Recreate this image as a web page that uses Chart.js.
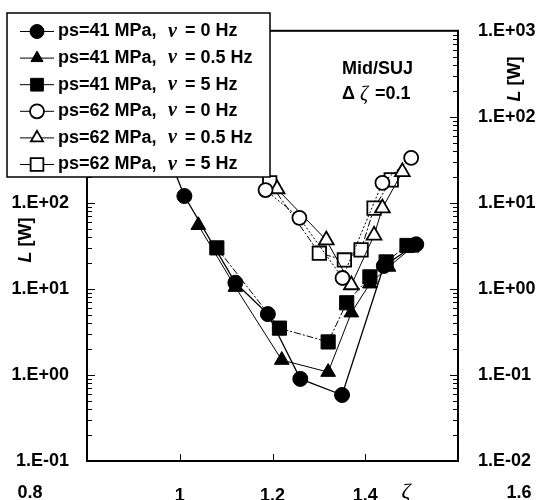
<!DOCTYPE html>
<html>
<head>
<meta charset="utf-8">
<script src="https://cdn.jsdelivr.net/npm/chart.js@4"></script>
<style>
  html, body { margin: 0; padding: 0; background: #fff; }
  #wrap { width: 536px; height: 500px; }
</style>
</head>
<body>
<div id="wrap"><canvas id="c"></canvas></div>
<script>
const SANS = "'Liberation Sans', Arial, sans-serif";
const SERIF = "'Liberation Serif', 'DejaVu Serif', serif";

// tick values
const xTicks = [0.8, 1, 1.2, 1.4, 1.6];
const yTicksLeft = [0.1, 1, 10, 100, 1000, 10000];
const yTicksRight = [0.01, 0.1, 1, 10, 100, 1000];

// series (zeta, L [W])
const zeta41_0 = [0.97, 1.01, 1.12, 1.19, 1.26, 1.35, 1.44, 1.51];
const L41_0 = [420, 120, 11.8, 5.1, 0.9, 0.585, 18.5, 33];

const zeta41_05 = [1.04, 1.12, 1.22, 1.32, 1.37, 1.41, 1.45, 1.50];
const L41_05 = [55, 10.5, 1.49, 1.08, 5.3, 11.5, 18, 30];

const zeta41_5 = [1.08, 1.215, 1.32, 1.36, 1.41, 1.445, 1.49];
const L41_5 = [30, 3.5, 2.42, 6.9, 13.8, 20.6, 32];

const zeta62_0 = [1.185, 1.258, 1.351, 1.437, 1.499];
const L62_0 = [141, 67, 13.4, 171, 333];

const zeta62_05 = [1.21, 1.316, 1.37, 1.419, 1.437, 1.48];
const L62_05 = [145, 37, 11.1, 42, 87, 229];

const zeta62_5 = [1.194, 1.301, 1.355, 1.391, 1.419, 1.456];
const L62_5 = [171, 26, 21.7, 28.4, 87, 185];

const seriesLabels = [
  "ps=41 MPa, ν = 0 Hz",
  "ps=41 MPa, ν = 0.5 Hz",
  "ps=41 MPa, ν = 5 Hz",
  "ps=62 MPa, ν = 0 Hz",
  "ps=62 MPa, ν = 0.5 Hz",
  "ps=62 MPa, ν = 5 Hz"
];

function pts(xs, ys) {
  return xs.map((x, i) => ({ x, y: ys[i] }));
}

function sci(v) {
  const e = Math.round(Math.log10(v));
  const s = e < 0 ? "-" : "+";
  return "1.E" + s + String(Math.abs(e)).padStart(2, "0");
}

function series(label, data, style, filled, radius, dash, width) {
  return {
    label,
    data,
    showLine: true,
    borderColor: "#000",
    borderWidth: width,
    borderDash: dash,
    tension: 0,
    pointStyle: style,
    pointRadius: radius,
    pointHoverRadius: radius,
    pointBackgroundColor: filled ? "#000" : "#fff",
    pointBorderColor: "#000",
    pointBorderWidth: filled ? 1 : 1.8
  };
}

const datasets = [
  series(seriesLabels[0], pts(zeta41_0, L41_0), "circle", true, 7.5, [], 1.3),
  series(seriesLabels[1], pts(zeta41_05, L41_05), "triangle", true, 8.5, [], 1),
  series(seriesLabels[2], pts(zeta41_5, L41_5), "rect", true, 10, [7, 2, 2, 2], 1),
  series(seriesLabels[3], pts(zeta62_0, L62_0), "circle", false, 7, [2, 2], 1),
  series(seriesLabels[4], pts(zeta62_05, L62_05), "triangle", false, 8.5, [], 1),
  series(seriesLabels[5], pts(zeta62_5, L62_5), "rect", false, 9.5, [7, 2, 2, 2], 1)
];

function marker(ctx, style, filled, x, y, r) {
  ctx.beginPath();
  if (style === "circle") {
    ctx.arc(x, y, r, 0, Math.PI * 2);
  } else if (style === "triangle") {
    ctx.moveTo(x, y - r);
    ctx.lineTo(x + r * 0.866, y + r * 0.5);
    ctx.lineTo(x - r * 0.866, y + r * 0.5);
    ctx.closePath();
  } else {
    const s = r * Math.SQRT1_2;
    ctx.rect(x - s, y - s, 2 * s, 2 * s);
  }
  ctx.fillStyle = filled ? "#000" : "#fff";
  ctx.fill();
  ctx.lineWidth = filled ? 1 : 1.8;
  ctx.stroke();
}

const decor = {
  id: "decor",
  afterDraw(chart) {
    const { ctx, chartArea: a, scales } = chart;
    const xs = scales.x, ys = scales.y;
    ctx.save();
    ctx.strokeStyle = "#000";

    // frame
    ctx.lineWidth = 2;
    ctx.strokeRect(a.left, a.top, a.right - a.left, a.bottom - a.top);

    // inward ticks
    ctx.lineWidth = 1;
    ctx.beginPath();
    for (let e = -1; e < 4; e++) {
      for (let m = 1; m < 10; m++) {
        const py = Math.round(ys.getPixelForValue(m * Math.pow(10, e))) + 0.5;
        const len = m === 1 ? 8 : 5;
        ctx.moveTo(a.left, py); ctx.lineTo(a.left + len, py);
        ctx.moveTo(a.right, py); ctx.lineTo(a.right - len, py);
      }
    }
    xTicks.forEach(v => {
      const px = Math.round(xs.getPixelForValue(v)) + 0.5;
      ctx.moveTo(px, a.bottom); ctx.lineTo(px, a.bottom - 7);
    });
    ctx.stroke();

    // end labels of x axis, pushed outward as in the figure
    ctx.fillStyle = "#000";
    ctx.font = "bold 18px " + SANS;
    ctx.textAlign = "center";
    ctx.textBaseline = "middle";
    ctx.fillText("0.8", xs.getPixelForValue(0.8) - 57, 493);
    ctx.fillText("1.6", xs.getPixelForValue(1.6) + 61, 493);
    ctx.font = "italic 22px " + SERIF;
    ctx.fillText("ζ", 406, 492);

    // annotation
    ctx.textAlign = "left";
    ctx.font = "bold 18px " + SANS;
    ctx.fillText("Mid/SUJ", 342, 69);
    ctx.fillText("Δ", 342, 94);
    ctx.font = "italic 20px " + SERIF;
    ctx.fillText("ζ", 360, 95);
    ctx.font = "bold 18px " + SANS;
    ctx.fillText("=0.1", 375, 94);

    // axis titles
    function title(cx, cy) {
      ctx.save();
      ctx.translate(cx, cy);
      ctx.rotate(-Math.PI / 2);
      ctx.textAlign = "left";
      ctx.font = "italic bold 18px " + SANS;
      const w1 = ctx.measureText("L ").width;
      ctx.font = "bold 18px " + SANS;
      const w2 = ctx.measureText("[W]").width;
      const x0 = -(w1 + w2) / 2;
      ctx.font = "italic bold 18px " + SANS;
      ctx.fillText("L", x0, 0);
      ctx.font = "bold 18px " + SANS;
      ctx.fillText("[W]", x0 + w1, 0);
      ctx.restore();
    }
    title(26, 240);
    title(515, 79);

    // legend box, drawn over the plot
    const bx = 7, by = 13, bw = 263, bh = 164;
    ctx.fillStyle = "#fff";
    ctx.fillRect(bx, by, bw, bh);
    ctx.lineWidth = 1.5;
    ctx.strokeRect(bx, by, bw, bh);
    datasets.forEach((ds, i) => {
      const cy = 31.5 + i * 26.6;
      ctx.lineWidth = 1;
      ctx.beginPath();
      ctx.moveTo(20, cy); ctx.lineTo(54, cy);
      ctx.stroke();
      const filled = ds.pointBackgroundColor === "#000";
      marker(ctx, ds.pointStyle, filled, 37, cy, ds.pointStyle === "rect" ? 9 : 7);
      const parts = ds.label.split("ν");
      ctx.fillStyle = "#000";
      ctx.textAlign = "left";
      ctx.textBaseline = "middle";
      ctx.font = "bold 18px " + SANS;
      ctx.fillText(parts[0].trim(), 58, cy);
      ctx.font = "italic bold 20px " + SERIF;
      ctx.fillText("ν", 168, cy);
      ctx.font = "bold 18px " + SANS;
      ctx.fillText(parts[1].trim(), 185, cy);
    });
    ctx.restore();
  }
};

new Chart(document.getElementById("c"), {
  type: "line",
  data: { datasets },
  options: {
    responsive: true,
    maintainAspectRatio: false,
    animation: false,
    layout: { padding: { top: 29, left: 0, right: 0, bottom: 0 } },
    plugins: { legend: { display: false }, tooltip: { enabled: false } },
    scales: {
      x: {
        type: "linear",
        min: 0.8,
        max: 1.6,
        afterBuildTicks: s => { s.ticks = xTicks.map(v => ({ value: v })); },
        afterFit: s => { s.height = 39; },
        grid: { display: false, drawTicks: false },
        border: { display: false },
        ticks: {
          color: "#000",
          padding: 24,
          maxRotation: 0,
          autoSkip: false,
          font: { family: SANS, size: 18, weight: "bold" },
          callback: v => (v === 0.8 || v === 1.6) ? "" : String(v)
        }
      },
      y: {
        type: "logarithmic",
        position: "left",
        min: 0.1,
        max: 10000,
        afterBuildTicks: s => { s.ticks = yTicksLeft.map(v => ({ value: v })); },
        afterFit: s => { s.width = 87; },
        grid: { display: false, drawTicks: false },
        border: { display: false },
        ticks: {
          color: "#000",
          padding: 18,
          autoSkip: false,
          font: { family: SANS, size: 18, weight: "bold" },
          callback: v => sci(v)
        }
      },
      y2: {
        type: "logarithmic",
        position: "right",
        min: 0.01,
        max: 1000,
        afterBuildTicks: s => { s.ticks = yTicksRight.map(v => ({ value: v })); },
        afterFit: s => { s.width = 78; },
        grid: { display: false, drawTicks: false },
        border: { display: false },
        ticks: {
          color: "#000",
          padding: 20,
          autoSkip: false,
          font: { family: SANS, size: 18, weight: "bold" },
          callback: v => sci(v)
        }
      }
    }
  },
  plugins: [decor]
});
</script>
</body>
</html>
